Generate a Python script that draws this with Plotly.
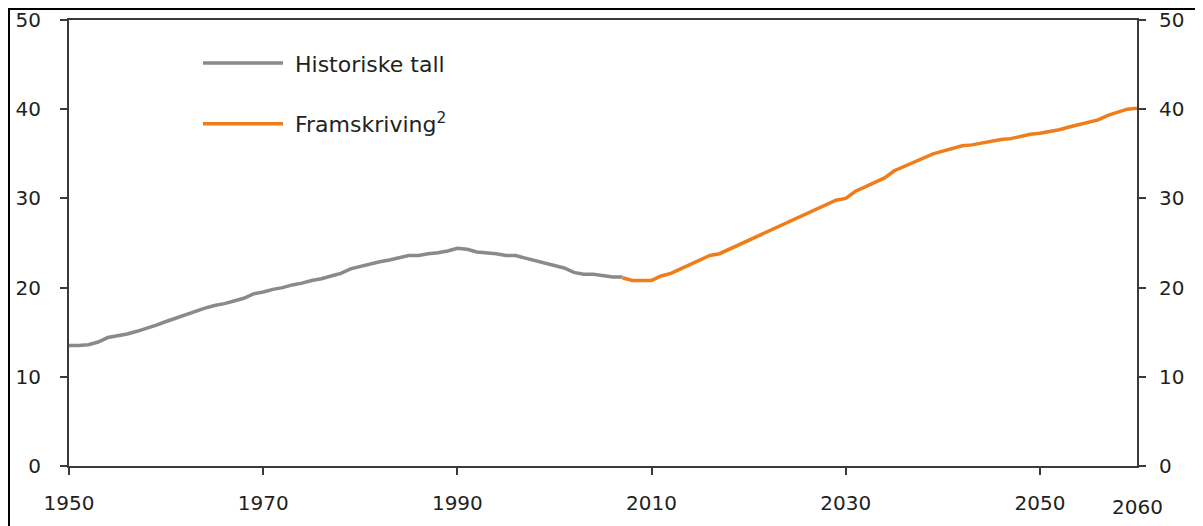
import plotly.graph_objects as go

hist_years = list(range(1950, 2008))
hist_values = [13.5, 13.5, 13.6, 13.9, 14.4, 14.6, 14.8, 15.1, 15.4, 15.8,
               16.2, 16.6, 16.9, 17.3, 17.7, 18.0, 18.2, 18.5, 18.8, 19.3,
               19.5, 19.8, 20.0, 20.3, 20.5, 20.8, 21.0, 21.3, 21.6, 22.1,
               22.4, 22.6, 22.9, 23.1, 23.4, 23.6, 23.6, 23.8, 23.9, 24.1,
               24.4, 24.3, 24.0, 23.9, 23.8, 23.6, 23.6, 23.3, 23.0, 22.8,
               22.5, 22.2, 21.7, 21.5, 21.5, 21.3, 21.2, 21.2]

proj_years = list(range(2007, 2061))
proj_values = [21.1, 20.8, 20.8, 20.8, 21.3, 21.6, 22.1, 22.6, 23.1, 23.6,
               23.8, 24.3, 24.8, 25.2, 25.7, 26.3, 26.8, 27.3, 27.8, 28.3,
               28.8, 29.3, 29.8, 30.0, 30.8, 31.3, 31.8, 32.3, 33.1, 33.6,
               34.1, 34.6, 35.0, 35.3, 35.6, 35.9, 36.0, 36.2, 36.4, 36.6,
               36.7, 36.9, 37.2, 37.3, 37.5, 37.7, 38.0, 38.3, 38.6, 38.8,
               39.3, 39.6, 40.0, 40.1]

x_tickvals = [1950, 1970, 1990, 2010, 2030, 2050]
x_ticktext = ["1950", "1970", "1990", "2010", "2030", "2050"]
last_year_label = "2060"
y_tickvals = [0, 10, 20, 30, 40, 50]

names = ["\u00a0Historiske tall", "\u00a0Framskriving<sup>2</sup>"]
colors = ["#8a8a8a", "#f07d1a"]

FONT = "DejaVu Sans"
TXT = "#231f20"
AX = "#3a3a3a"

fig = go.Figure()
fig.add_trace(go.Scatter(x=hist_years, y=hist_values, mode="lines", name=names[0],
                         line=dict(color=colors[0], width=3.5), legendgroup="a"))
fig.add_trace(go.Scatter(x=proj_years, y=proj_values, mode="lines", name=names[1],
                         line=dict(color=colors[1], width=3.5), legendgroup="b",
                         yaxis="y2"))

axis_common = dict(showline=True, linecolor=AX, linewidth=2, ticks="outside",
                   tickcolor=AX, tickwidth=2, ticklen=7, showgrid=False,
                   zeroline=False, automargin=False,
                   tickfont=dict(family=FONT, size=20, color=TXT))

fig.update_layout(
    width=1203, height=526,
    margin=dict(l=61, r=74, t=12, b=68),
    paper_bgcolor="white", plot_bgcolor="white",
    xaxis=dict(range=[1950, 2060], tickvals=x_tickvals, ticktext=x_ticktext,
               mirror=True, ticklabelstandoff=11, **axis_common),
    yaxis=dict(range=[0, 50], tickvals=y_tickvals, ticklabelstandoff=15,
               **axis_common),
    yaxis2=dict(range=[0, 50], tickvals=y_tickvals, overlaying="y", side="right",
                ticklabelstandoff=9, **axis_common),
    legend=dict(x=0.1208, y=0.95, xanchor="left", yanchor="top",
                font=dict(family=FONT, size=22, color=TXT),
                bgcolor="rgba(0,0,0,0)", itemwidth=80,
                traceorder="grouped", tracegroupgap=29),
    showlegend=True,
)

fig.add_annotation(x=2060, y=0, xref="x", yref="y", text=last_year_label,
                   showarrow=False, yshift=-41,
                   font=dict(family=FONT, size=20, color=TXT))

fig.add_shape(type="rect", xref="paper", yref="paper",
              x0=-0.0562, x1=1.0571, y0=-0.16, y1=1.0247,
              line=dict(color="black", width=2), fillcolor="rgba(0,0,0,0)",
              layer="below")

fig.write_html("out.html")
